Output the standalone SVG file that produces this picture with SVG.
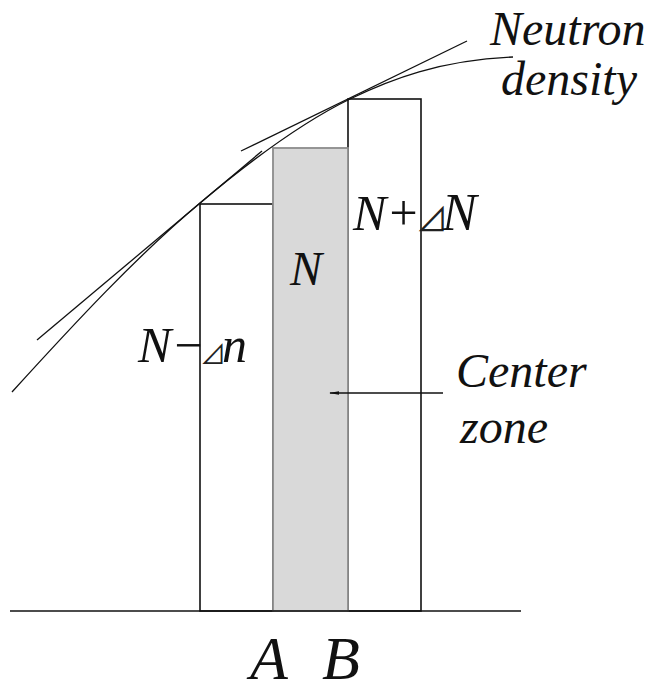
<svg xmlns="http://www.w3.org/2000/svg" width="658" height="686" viewBox="0 0 658 686">
  <style>
    text.lbl { font-family: 'Liberation Serif', 'Times New Roman', serif; font-style: italic; fill: #111; }
    tspan.tri { font-family: 'Noto Sans CJK SC', 'DejaVu Sans', sans-serif; font-style: normal; fill: #222; }
    .edge { fill: none; stroke: #111; stroke-width: 1.6; }
    .thin { fill: none; stroke: #111; stroke-width: 1.3; }
    .box { fill: #ffffff; stroke: #111; stroke-width: 1.6; }
    .center { fill: #d9d9d9; stroke: #8c8c8c; stroke-width: 1.8; }
  </style>
  <defs>
    <marker id="arrow" markerWidth="10" markerHeight="6" refX="9" refY="3" orient="auto" markerUnits="userSpaceOnUse">
      <path d="M0,1.2 L10,3 L0,4.8 Z" fill="#111"/>
    </marker>
  </defs>
  <rect width="658" height="686" fill="#ffffff"/>

  <g id="zone-left">
    <rect class="box" x="200" y="204" width="73" height="407"/>
  </g>
  <g id="zone-right">
    <rect class="box" x="348" y="99" width="73" height="512"/>
  </g>
  <g id="zone-center">
    <rect class="center" x="273" y="148" width="75" height="463"/>
  </g>
  <g id="axis">
    <line class="edge" x1="10" y1="611" x2="521" y2="611" stroke-width="2.2"/>
  </g>

  <g id="connectors">
    <path id="density-curve" class="thin" d="M12,392 C74.7,323.1 137.3,255.6 200,203 C250,161 300,123.3 350,99 C390,79.6 440,60 513,57"/>
    <line id="tangent-left" class="thin" x1="37" y1="340" x2="262" y2="151"/>
    <line id="tangent-right" class="thin" x1="241" y1="151" x2="467" y2="41"/>
    <line id="center-arrow" class="edge" x1="443" y1="393" x2="330" y2="393" marker-end="url(#arrow)"/>
  </g>

  <g id="label-neutron">
    <text class="lbl" x="490" y="45" font-size="48">Neutron</text>
    <text class="lbl" x="501" y="95" font-size="48">density</text>
  </g>
  <g id="label-nplus">
    <text class="lbl" x="353" y="230" font-size="50">N+<tspan class="tri" x="416" y="231" font-size="32">⊿</tspan><tspan x="442" y="230" font-size="52">N</tspan></text>
  </g>
  <g id="label-n">
    <text class="lbl" x="290" y="285" font-size="48">N</text>
  </g>
  <g id="label-nminus">
    <text class="lbl" x="138" y="362" font-size="50">N−<tspan class="tri" x="200" y="364" font-size="26">⊿</tspan><tspan x="222" y="362">n</tspan></text>
  </g>
  <g id="label-center">
    <text class="lbl" x="456" y="387" font-size="48">Center</text>
    <text class="lbl" x="460" y="443" font-size="48">zone</text>
  </g>
  <g id="label-ab">
    <text class="lbl" x="250" y="679" font-size="62">A<tspan x="322">B</tspan></text>
  </g>
</svg>
